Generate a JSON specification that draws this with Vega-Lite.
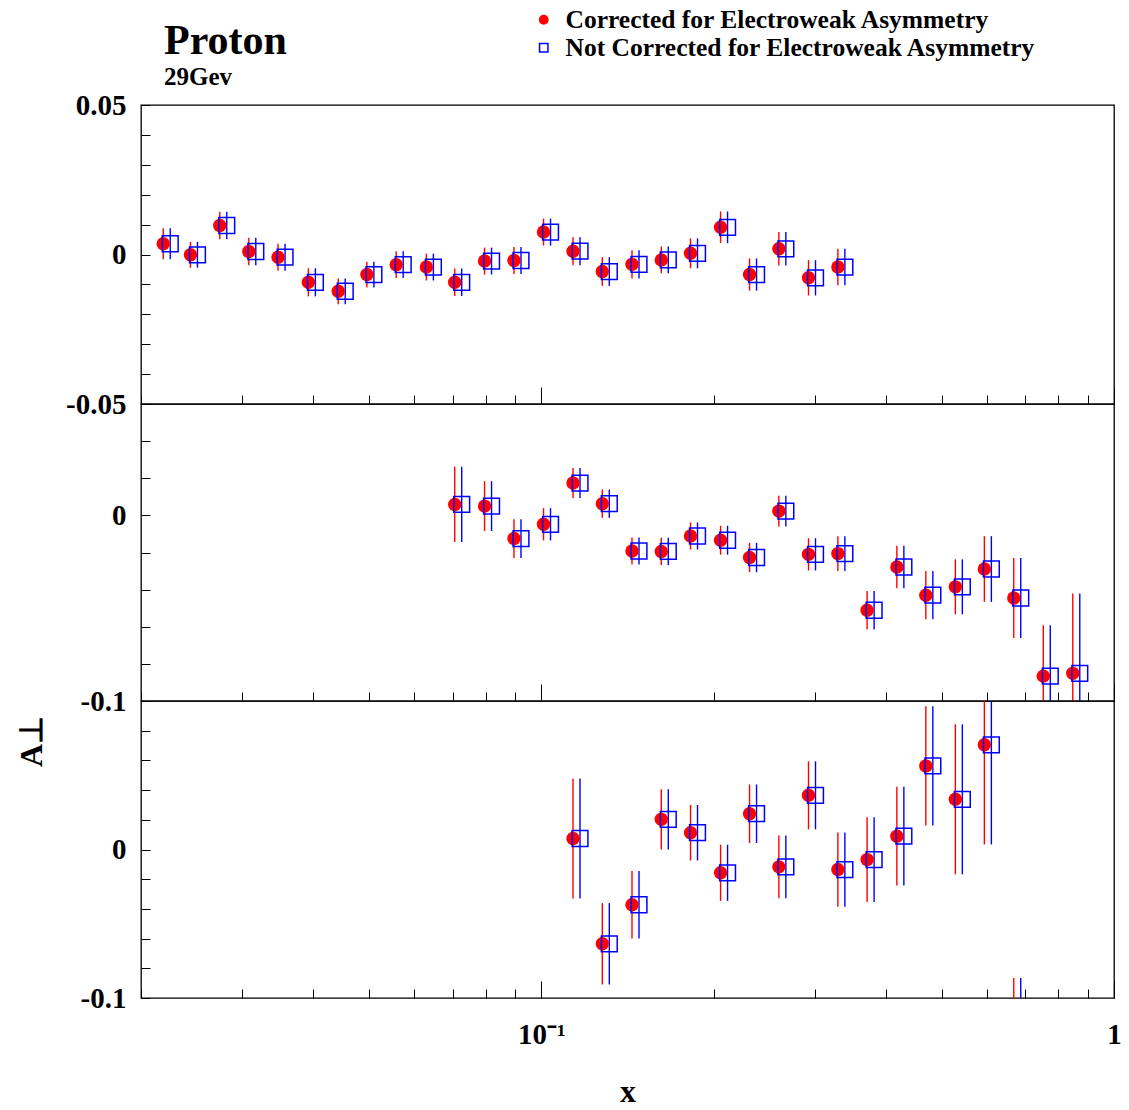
{
  "$schema": "https://vega.github.io/schema/vega-lite/v6.json",
  "background": "white",
  "padding": {"left": 14, "top": 7, "right": 5, "bottom": 5},
  "datasets": {
    "p1": [
      {"x":0.02187,"y":0.0036,"e":0.0052},{"x":0.0244,"y":-0.0001,"e":0.0043},{"x":0.02745,"y":0.0097,"e":0.0046},
      {"x":0.03085,"y":0.001,"e":0.0046},{"x":0.0347,"y":-0.0009,"e":0.0045},{"x":0.0392,"y":-0.0093,"e":0.0047},
      {"x":0.0442,"y":-0.0123,"e":0.0043},{"x":0.0496,"y":-0.0067,"e":0.0043},{"x":0.0558,"y":-0.0034,"e":0.0045},
      {"x":0.063,"y":-0.0042,"e":0.0045},{"x":0.0706,"y":-0.0093,"e":0.0046},{"x":0.0796,"y":-0.0022,"e":0.0045},
      {"x":0.0896,"y":-0.002,"e":0.0045},{"x":0.1009,"y":0.0075,"e":0.0045},{"x":0.1136,"y":0.0011,"e":0.0047},
      {"x":0.1278,"y":-0.0057,"e":0.0048},{"x":0.144,"y":-0.0033,"e":0.0047},{"x":0.162,"y":-0.0018,"e":0.0045},
      {"x":0.1822,"y":0.0004,"e":0.005},{"x":0.2056,"y":0.0091,"e":0.0053},{"x":0.231,"y":-0.0067,"e":0.0054},
      {"x":0.2599,"y":0.0019,"e":0.0056},{"x":0.2928,"y":-0.0078,"e":0.0059},{"x":0.3295,"y":-0.0042,"e":0.0061}
    ],
    "p2": [
      {"x":0.0706,"y":0.0059,"e":0.0203},{"x":0.0796,"y":0.005,"e":0.0134},{"x":0.0896,"y":-0.0125,"e":0.0104},
      {"x":0.1009,"y":-0.0048,"e":0.0087},{"x":0.1136,"y":0.0174,"e":0.0081},{"x":0.1278,"y":0.0063,"e":0.0076},
      {"x":0.144,"y":-0.0192,"e":0.0073},{"x":0.162,"y":-0.0194,"e":0.0074},{"x":0.1822,"y":-0.0111,"e":0.0073},
      {"x":0.2056,"y":-0.0134,"e":0.0078},{"x":0.231,"y":-0.0227,"e":0.0079},{"x":0.2599,"y":0.0023,"e":0.0083},
      {"x":0.2928,"y":-0.021,"e":0.0087},{"x":0.3295,"y":-0.0206,"e":0.0094},{"x":0.3706,"y":-0.0511,"e":0.0104},
      {"x":0.4177,"y":-0.0278,"e":0.0115},{"x":0.4693,"y":-0.043,"e":0.013},{"x":0.5284,"y":-0.0385,"e":0.0148},
      {"x":0.5938,"y":-0.0289,"e":0.0177},{"x":0.6683,"y":-0.0445,"e":0.0215},{"x":0.7525,"y":-0.0866,"e":0.0274},
      {"x":0.8473,"y":-0.0851,"e":0.043}
    ],
    "p3": [
      {"x":0.1136,"y":0.0074,"e":0.0404},{"x":0.1278,"y":-0.0635,"e":0.0274},{"x":0.144,"y":-0.0372,"e":0.0228},
      {"x":0.162,"y":0.0203,"e":0.0203},{"x":0.1822,"y":0.0113,"e":0.0187},{"x":0.2056,"y":-0.0157,"e":0.0189},
      {"x":0.231,"y":0.0241,"e":0.0197},{"x":0.2599,"y":-0.0117,"e":0.0211},{"x":0.2928,"y":0.0365,"e":0.0229},
      {"x":0.3295,"y":-0.0135,"e":0.025},{"x":0.3706,"y":-0.0068,"e":0.0285},{"x":0.4177,"y":0.009,"e":0.0332},
      {"x":0.4693,"y":0.0563,"e":0.0402},{"x":0.5284,"y":0.0338,"e":0.0505},{"x":0.5938,"y":0.0705,"e":0.0671},
      {"x":0.6683,"y":-0.145,"e":0.0585}
    ]
  },
  "config": {
    "font": "Liberation Serif",
    "view": {"stroke": "black", "strokeWidth": 1.3},
    "axis": {
      "grid": false, "domain": false,
      "labelFont": "Liberation Serif", "labelFontWeight": "bold", "labelFontSize": 29, "labelColor": "black",
      "tickColor": "black", "tickWidth": 1,
      "titleFont": "Liberation Serif", "titleFontWeight": "bold", "titleColor": "black",
      "labelFlush": false, "labelOverlap": false, "labelBound": false
    }
  },
  "spacing": 0,
  "bounds": "flush",
  "resolve": {"scale": {"x": "independent", "y": "independent", "fill": "shared", "stroke": "shared", "shape": "shared"}},
  "vconcat": [
    {
      "width": 973, "height": 299,
      "title": {"text": "Proton", "subtitle": "29Gev", "anchor": "start", "frame": "group", "dx": 23, "offset": 0,
        "font": "Liberation Serif", "fontSize": 42, "fontWeight": "bold", "color": "black",
        "subtitleFont": "Liberation Serif", "subtitleFontSize": 25, "subtitleFontWeight": "bold", "subtitleColor": "black", "subtitlePadding": 2},
      "data": {"name": "p1"},
      "encoding": {
        "x": {"field": "x", "type": "quantitative",
          "scale": {"type": "log", "domain": [0.02, 1], "nice": false},
          "axis": {"title": null, "labels": false,
            "values": [0.02,0.03,0.04,0.05,0.06,0.07,0.08,0.09,0.1,0.2,0.3,0.4,0.5,0.6,0.7,0.8,0.9,1],
            "tickSize": {"condition": {"test": "datum.value == 0.1 || datum.value == 1", "value": -17}, "value": -9}}},
        "y": {"field": "y", "type": "quantitative",
          "scale": {"domain": [-0.05, 0.05], "nice": false, "zero": false},
          "axis": {"title": null, "tickSize": -9, "labelPadding": 24,
            "values": [-0.05,-0.04,-0.03,-0.02,-0.01,0,0.01,0.02,0.03,0.04,0.05],
            "labelExpr": "abs(datum.value-0.05)<1e-6 ? '0.05' : abs(datum.value)<1e-6 ? '0' : abs(datum.value+0.05)<1e-6 ? '-0.05' : ''"}}
      },
      "layer": [
        {"data": {"values": [{}]}, "mark": {"type": "rule", "strokeDash": [9, 6], "color": "#333333", "strokeWidth": 1.2},
          "encoding": {"x": {"datum": 0.02}, "x2": {"datum": 1}, "y": {"datum": 0}}},
        {"mark": {"type": "errorbar", "clip": true, "thickness": 1.4, "color": "#0000ff", "rule": {"xOffset": 7}},
          "encoding": {"yError": {"field": "e"}}},
        {"mark": {"type": "errorbar", "clip": true, "thickness": 1.4, "color": "#ff0000"},
          "encoding": {"yError": {"field": "e"}}},
        {"mark": {"type": "point", "filled": true, "size": 180, "strokeWidth": 0, "opacity": 1, "clip": true},
          "encoding": {
            "fill": {"datum": "Corrected for Electroweak Asymmetry",
              "scale": {"domain": ["Corrected for Electroweak Asymmetry", "Not Corrected for Electroweak Asymmetry"], "range": ["#ff0000", "transparent"]},
              "legend": {"title": null, "orient": "none", "legendX": 390, "legendY": -98, "padding": 0, "labelLimit": 0,
                "labelFont": "Liberation Serif", "labelFontWeight": "bold", "labelFontSize": 25.5, "labelColor": "black",
                "symbolSize": 70, "symbolStrokeWidth": 1.5, "labelOffset": 9, "rowPadding": 1}},
            "stroke": {"datum": "Corrected for Electroweak Asymmetry",
              "scale": {"domain": ["Corrected for Electroweak Asymmetry", "Not Corrected for Electroweak Asymmetry"], "range": ["#ff0000", "#0000ff"]},
              "legend": {"title": null, "orient": "none", "legendX": 390, "legendY": -98, "padding": 0, "labelLimit": 0,
                "labelFont": "Liberation Serif", "labelFontWeight": "bold", "labelFontSize": 25.5, "labelColor": "black",
                "symbolSize": 70, "symbolStrokeWidth": 1.5, "labelOffset": 9, "rowPadding": 1}},
            "shape": {"datum": "Corrected for Electroweak Asymmetry",
              "scale": {"domain": ["Corrected for Electroweak Asymmetry", "Not Corrected for Electroweak Asymmetry"], "range": ["circle", "square"]},
              "legend": {"title": null, "orient": "none", "legendX": 390, "legendY": -98, "padding": 0, "labelLimit": 0,
                "labelFont": "Liberation Serif", "labelFontWeight": "bold", "labelFontSize": 25.5, "labelColor": "black",
                "symbolSize": 70, "symbolStrokeWidth": 1.5, "labelOffset": 9, "rowPadding": 1}}
          }},
        {"mark": {"type": "point", "filled": false, "size": 250, "strokeWidth": 1.5, "opacity": 1, "clip": true, "xOffset": 7},
          "encoding": {
            "fill": {"datum": "Not Corrected for Electroweak Asymmetry"},
            "stroke": {"datum": "Not Corrected for Electroweak Asymmetry"},
            "shape": {"datum": "Not Corrected for Electroweak Asymmetry"}
          }},
        {"data": {"values": [{}]}, "mark": {"type": "text", "align": "left", "baseline": "middle", "font": "Liberation Serif", "fontWeight": "bold", "fontSize": 24, "color": "black"},
          "encoding": {"x": {"datum": 0.02207}, "y": {"datum": 0.0318}, "text": {"value": "2.75 spectrometer"}}}
      ]
    },
    {
      "width": 973, "height": 297,
      "data": {"name": "p2"},
      "encoding": {
        "x": {"field": "x", "type": "quantitative",
          "scale": {"type": "log", "domain": [0.02, 1], "nice": false},
          "axis": {"title": null, "labels": false,
            "values": [0.02,0.03,0.04,0.05,0.06,0.07,0.08,0.09,0.1,0.2,0.3,0.4,0.5,0.6,0.7,0.8,0.9,1],
            "tickSize": {"condition": {"test": "datum.value == 0.1 || datum.value == 1", "value": -17}, "value": -9}}},
        "y": {"field": "y", "type": "quantitative",
          "scale": {"domain": [-0.1, 0.06], "nice": false, "zero": false},
          "axis": {"title": null, "tickSize": -9, "labelPadding": 24,
            "values": [-0.1,-0.08,-0.06,-0.04,-0.02,0,0.02,0.04,0.06],
            "labelExpr": "abs(datum.value)<1e-6 ? '0' : abs(datum.value+0.1)<1e-6 ? '-0.1' : ''"}}
      },
      "layer": [
        {"data": {"values": [{}]}, "mark": {"type": "rule", "strokeDash": [9, 6], "color": "#333333", "strokeWidth": 1.2},
          "encoding": {"x": {"datum": 0.02}, "x2": {"datum": 1}, "y": {"datum": 0}}},
        {"mark": {"type": "errorbar", "clip": true, "thickness": 1.4, "color": "#0000ff", "rule": {"xOffset": 7}},
          "encoding": {"yError": {"field": "e"}}},
        {"mark": {"type": "errorbar", "clip": true, "thickness": 1.4, "color": "#ff0000"},
          "encoding": {"yError": {"field": "e"}}},
        {"mark": {"type": "point", "filled": true, "size": 180, "strokeWidth": 0, "opacity": 1, "clip": true},
          "encoding": {
            "fill": {"datum": "Corrected for Electroweak Asymmetry"},
            "stroke": {"datum": "Corrected for Electroweak Asymmetry"},
            "shape": {"datum": "Corrected for Electroweak Asymmetry"}
          }},
        {"mark": {"type": "point", "filled": false, "size": 250, "strokeWidth": 1.5, "opacity": 1, "clip": true, "xOffset": 7},
          "encoding": {
            "fill": {"datum": "Not Corrected for Electroweak Asymmetry"},
            "stroke": {"datum": "Not Corrected for Electroweak Asymmetry"},
            "shape": {"datum": "Not Corrected for Electroweak Asymmetry"}
          }},
        {"data": {"values": [{}]}, "mark": {"type": "text", "align": "left", "baseline": "middle", "font": "Liberation Serif", "fontWeight": "bold", "fontSize": 24, "color": "black"},
          "encoding": {"x": {"datum": 0.02207}, "y": {"datum": 0.0177}, "text": {"value": "5.5 spectrometer"}}}
      ]
    },
    {
      "width": 973, "height": 297,
      "data": {"name": "p3"},
      "encoding": {
        "x": {"field": "x", "type": "quantitative",
          "scale": {"type": "log", "domain": [0.02, 1], "nice": false},
          "axis": {"title": "x", "titleFontSize": 32, "titlePadding": 19, "labelPadding": 39,
            "values": [0.02,0.03,0.04,0.05,0.06,0.07,0.08,0.09,0.1,0.2,0.3,0.4,0.5,0.6,0.7,0.8,0.9,1],
            "labelExpr": "datum.value == 0.1 ? '10⁻¹' : datum.value == 1 ? '1' : ''",
            "labelAlign": "center",
            "tickSize": {"condition": {"test": "datum.value == 0.1 || datum.value == 1", "value": -17}, "value": -9}}},
        "y": {"field": "y", "type": "quantitative",
          "scale": {"domain": [-0.1, 0.1], "nice": false, "zero": false},
          "axis": {"title": "A⊥", "titleFontSize": 32, "titleX": -110, "titleY": 40, "titleAlign": "center", "titleBaseline": "middle", "titleAngle": -90,
            "tickSize": -9, "labelPadding": 24,
            "values": [-0.1,-0.08,-0.06,-0.04,-0.02,0,0.02,0.04,0.06,0.08,0.1],
            "labelExpr": "abs(datum.value)<1e-6 ? '0' : abs(datum.value+0.1)<1e-6 ? '-0.1' : ''"}}
      },
      "layer": [
        {"data": {"values": [{}]}, "mark": {"type": "rule", "strokeDash": [9, 6], "color": "#333333", "strokeWidth": 1.2},
          "encoding": {"x": {"datum": 0.02}, "x2": {"datum": 1}, "y": {"datum": 0}}},
        {"mark": {"type": "errorbar", "clip": true, "thickness": 1.4, "color": "#0000ff", "rule": {"xOffset": 7}},
          "encoding": {"yError": {"field": "e"}}},
        {"mark": {"type": "errorbar", "clip": true, "thickness": 1.4, "color": "#ff0000"},
          "encoding": {"yError": {"field": "e"}}},
        {"mark": {"type": "point", "filled": true, "size": 180, "strokeWidth": 0, "opacity": 1, "clip": true},
          "encoding": {
            "fill": {"datum": "Corrected for Electroweak Asymmetry"},
            "stroke": {"datum": "Corrected for Electroweak Asymmetry"},
            "shape": {"datum": "Corrected for Electroweak Asymmetry"}
          }},
        {"mark": {"type": "point", "filled": false, "size": 250, "strokeWidth": 1.5, "opacity": 1, "clip": true, "xOffset": 7},
          "encoding": {
            "fill": {"datum": "Not Corrected for Electroweak Asymmetry"},
            "stroke": {"datum": "Not Corrected for Electroweak Asymmetry"},
            "shape": {"datum": "Not Corrected for Electroweak Asymmetry"}
          }},
        {"data": {"values": [{}]}, "mark": {"type": "text", "align": "left", "baseline": "middle", "font": "Liberation Serif", "fontWeight": "bold", "fontSize": 24, "color": "black"},
          "encoding": {"x": {"datum": 0.02207}, "y": {"datum": 0.0473}, "text": {"value": "10.5 spectrometer"}}}
      ]
    }
  ]
}
